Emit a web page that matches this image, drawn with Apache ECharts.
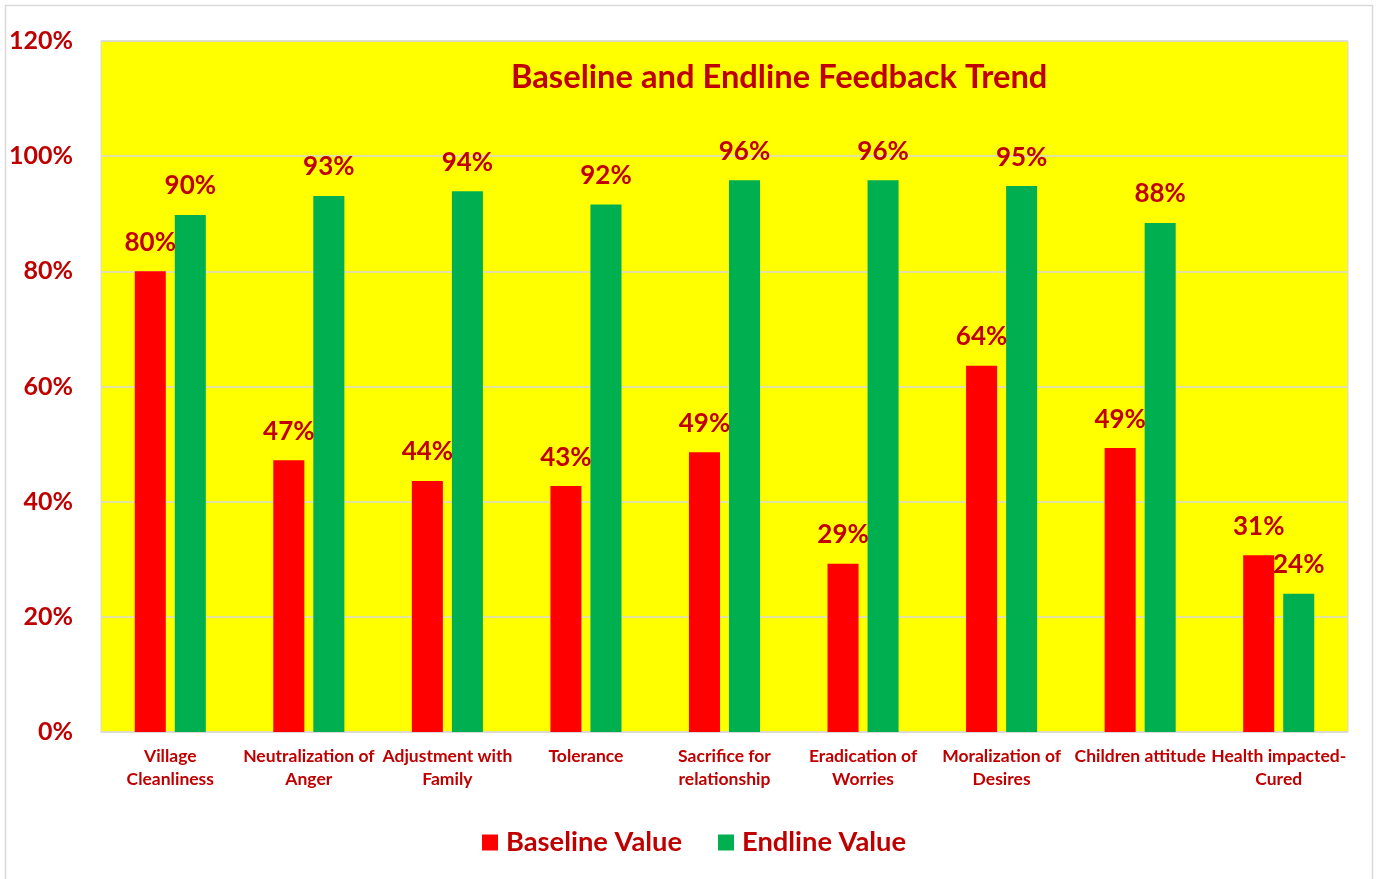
<!DOCTYPE html>
<html><head><meta charset="utf-8">
<script src="https://cdn.jsdelivr.net/npm/echarts@6/dist/echarts.min.js"></script>
<style>html,body{margin:0;padding:0;background:#fff}#c{width:1385px;height:879px}</style>
</head><body><div id="c"></div>
<script>
const categories = ['Village\nCleanliness','Neutralization of\nAnger','Adjustment with\nFamily','Tolerance','Sacrifice for\nrelationship','Eradication of\nWorries','Moralization of\nDesires','Children attitude','Health impacted-\nCured'];
const baseline = [0.80, 0.472, 0.436, 0.427, 0.486, 0.292, 0.636, 0.493, 0.307];
const endline = [0.898, 0.931, 0.939, 0.916, 0.958, 0.958, 0.948, 0.884, 0.240];
const yTicks = [0, 0.2, 0.4, 0.6, 0.8, 1.0, 1.2];

const FONT = 'Lato';
const DARK = '#C00000';
const chart = echarts.init(document.getElementById('c'));
const pct = v => Math.round(v * 100) + '%';
chart.setOption({
  animation: false,
  textStyle: { fontFamily: FONT },
  graphic: [{ type: 'rect', shape: { x: 5.5, y: 5.5, width: 1367, height: 880 }, style: { fill: 'none', stroke: '#d9d9d9', lineWidth: 1.5 }, silent: true }],
  title: { text: 'Baseline and Endline Feedback Trend', left: 506, top: 56,
    textStyle: { color: DARK, fontSize: 32.7, fontWeight: 'bold', fontFamily: FONT } },
  legend: { left: 482, top: 829, padding: 0, itemWidth: 16, itemHeight: 16, itemGap: 36, icon: 'rect',
    textStyle: { color: DARK, fontSize: 27.3, fontWeight: 'bold', fontFamily: FONT, padding: [0, 0, 0, 3] },
    data: ['Baseline Value', 'Endline Value'] },
  grid: { left: 101, right: 37, top: 41, bottom: 147, show: true, backgroundColor: '#FFFF00', borderColor: '#d9d9d9', borderWidth: 1 },
  xAxis: { type: 'category', data: categories,
    axisLine: { lineStyle: { color: '#d9d9d9' } }, axisTick: { show: false },
    axisLabel: { interval: 0, color: DARK, fontSize: 17.5, fontWeight: 'bold', fontFamily: FONT, lineHeight: 23, margin: 13 } },
  yAxis: { type: 'value', min: 0, max: 1.2, interval: 0.2,
    axisLine: { show: false }, axisTick: { show: false },
    splitLine: { lineStyle: { color: '#d9d9d9', width: 1.5 } },
    axisLabel: { color: DARK, fontSize: 25, fontWeight: 'bold', fontFamily: FONT, margin: 28,
      formatter: v => yTicks.some(t => Math.abs(t - v) < 1e-9) ? pct(v) : '' } },
  series: [
    { name: 'Baseline Value', type: 'bar', data: baseline, barWidth: '22.4%', barGap: '29%',
      itemStyle: { color: '#FF0000' },
      label: { show: true, position: 'top', distance: 16, formatter: p => pct(p.value), color: DARK, fontSize: 26, fontWeight: 'bold', fontFamily: FONT } },
    { name: 'Endline Value', type: 'bar', data: endline, barWidth: '22.4%',
      itemStyle: { color: '#00B050' },
      label: { show: true, position: 'top', distance: 16, formatter: p => pct(p.value), color: DARK, fontSize: 26, fontWeight: 'bold', fontFamily: FONT } }
  ]
});
</script></body></html>
